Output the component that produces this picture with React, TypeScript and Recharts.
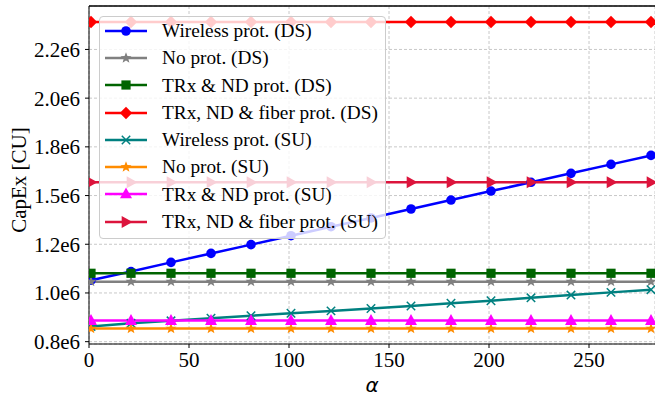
import React from "react";
import {
  LineChart,
  Line,
  XAxis,
  YAxis,
  CartesianGrid,
  ReferenceLine,
} from "recharts";

const alpha = [1, 21, 41, 61, 81, 101, 121, 141, 161, 181, 201, 221, 241, 261, 281];

const wirelessDS = [1.065e6, 1.11e6, 1.157e6, 1.203e6, 1.248e6, 1.294e6, 1.34e6, 1.385e6, 1.431e6, 1.477e6, 1.523e6, 1.568e6, 1.614e6, 1.66e6, 1.706e6];
const noProtDS = [1.058e6, 1.058e6, 1.058e6, 1.058e6, 1.058e6, 1.058e6, 1.058e6, 1.058e6, 1.058e6, 1.058e6, 1.058e6, 1.058e6, 1.058e6, 1.058e6, 1.058e6];
const trxDS = [1.101e6, 1.101e6, 1.101e6, 1.101e6, 1.101e6, 1.101e6, 1.101e6, 1.101e6, 1.101e6, 1.101e6, 1.101e6, 1.101e6, 1.101e6, 1.101e6, 1.101e6];
const fiberDS = [2.391e6, 2.391e6, 2.391e6, 2.391e6, 2.391e6, 2.391e6, 2.391e6, 2.391e6, 2.391e6, 2.391e6, 2.391e6, 2.391e6, 2.391e6, 2.391e6, 2.391e6];
const wirelessSU = [0.828e6, 0.844e6, 0.857e6, 0.87e6, 0.883e6, 0.896e6, 0.908e6, 0.92e6, 0.933e6, 0.947e6, 0.96e6, 0.975e6, 0.989e6, 1.003e6, 1.017e6];
const noProtSU = [0.817e6, 0.817e6, 0.817e6, 0.817e6, 0.817e6, 0.817e6, 0.817e6, 0.817e6, 0.817e6, 0.817e6, 0.817e6, 0.817e6, 0.817e6, 0.817e6, 0.817e6];
const trxSU = [0.858e6, 0.858e6, 0.858e6, 0.858e6, 0.858e6, 0.858e6, 0.858e6, 0.858e6, 0.858e6, 0.858e6, 0.858e6, 0.858e6, 0.858e6, 0.858e6, 0.858e6];
const fiberSU = [1.568e6, 1.568e6, 1.568e6, 1.568e6, 1.568e6, 1.568e6, 1.568e6, 1.568e6, 1.568e6, 1.568e6, 1.568e6, 1.568e6, 1.568e6, 1.568e6, 1.568e6];

const xTicks = [0, 50, 100, 150, 200, 250];
const yTicks = [0.75e6, 1.0e6, 1.25e6, 1.5e6, 1.75e6, 2.0e6, 2.25e6];
const yTickLabels = ["0.8e6", "1.0e6", "1.2e6", "1.5e6", "1.8e6", "2.0e6", "2.2e6"];

const X_DOMAIN: [number, number] = [0, 283];
const Y_DOMAIN: [number, number] = [0.738e6, 2.473e6];

type Shape = "circle" | "star" | "square" | "diamond" | "x" | "triUp" | "triRight";

const series: { key: string; name: string; color: string; shape: Shape; values: number[] }[] = [
  { key: "wds", name: "Wireless prot. (DS)", color: "#0000ff", shape: "circle", values: wirelessDS },
  { key: "nds", name: "No prot. (DS)", color: "#808080", shape: "star", values: noProtDS },
  { key: "tds", name: "TRx & ND prot. (DS)", color: "#006400", shape: "square", values: trxDS },
  { key: "fds", name: "TRx, ND & fiber prot. (DS)", color: "#ff0000", shape: "diamond", values: fiberDS },
  { key: "wsu", name: "Wireless prot. (SU)", color: "#008080", shape: "x", values: wirelessSU },
  { key: "nsu", name: "No prot. (SU)", color: "#ff8c00", shape: "star", values: noProtSU },
  { key: "tsu", name: "TRx & ND prot. (SU)", color: "#ff00ff", shape: "triUp", values: trxSU },
  { key: "fsu", name: "TRx, ND & fiber prot. (SU)", color: "#dc143c", shape: "triRight", values: fiberSU },
];

const data = alpha.map((a, i) => {
  const row: Record<string, number> = { alpha: a };
  series.forEach((s) => (row[s.key] = s.values[i]));
  return row;
});

const SERIF = "'Liberation Serif', 'Times New Roman', serif";

function starPoints(cx: number, cy: number, r: number) {
  const pts: string[] = [];
  for (let i = 0; i < 10; i++) {
    const rad = i % 2 === 0 ? r : r * 0.42;
    const a = -Math.PI / 2 + (i * Math.PI) / 5;
    pts.push(`${cx + rad * Math.cos(a)},${cy + rad * Math.sin(a)}`);
  }
  return pts.join(" ");
}

function Marker({ shape, cx, cy, color }: { shape: Shape; cx: number; cy: number; color: string }) {
  switch (shape) {
    case "circle":
      return <circle cx={cx} cy={cy} r={4.8} fill={color} />;
    case "square":
      return <rect x={cx - 4.6} y={cy - 4.6} width={9.2} height={9.2} fill={color} />;
    case "diamond":
      return <polygon points={`${cx},${cy - 6.2} ${cx + 6.2},${cy} ${cx},${cy + 6.2} ${cx - 6.2},${cy}`} fill={color} />;
    case "star":
      return <polygon points={starPoints(cx, cy, 5.8)} fill={color} />;
    case "x":
      return (
        <g stroke={color} strokeWidth={1.5}>
          <line x1={cx - 4.2} y1={cy - 4.2} x2={cx + 4.2} y2={cy + 4.2} />
          <line x1={cx - 4.2} y1={cy + 4.2} x2={cx + 4.2} y2={cy - 4.2} />
        </g>
      );
    case "triUp":
      return <polygon points={`${cx},${cy - 6.5} ${cx + 6},${cy + 4.3} ${cx - 6},${cy + 4.3}`} fill={color} />;
    case "triRight":
      return <polygon points={`${cx + 6.5},${cy} ${cx - 4.3},${cy - 6} ${cx - 4.3},${cy + 6}`} fill={color} />;
  }
  return null;
}

const makeDot = (shape: Shape, color: string) => (props: any) => {
  const { cx, cy, index } = props;
  if (cx == null || cy == null) return <g key={`d-${index}`} />;
  return (
    <g key={`${shape}-${color}-${index}`}>
      <Marker shape={shape} cx={cx} cy={cy} color={color} />
    </g>
  );
};

function ChartLegend() {
  return (
    <div
      style={{
        position: "absolute",
        left: 99,
        top: 16,
        width: 285,
        paddingBottom: 3,
        background: "rgba(255,255,255,0.8)",
        border: "1px solid #cccccc",
        borderRadius: 4,
        fontFamily: SERIF,
        fontSize: 19.3,
        color: "#000",
      }}
    >
      {series.map((s) => (
        <div key={s.key} style={{ height: 27.3, display: "flex", alignItems: "center" }}>
          <svg width={57} height={20} style={{ marginLeft: 5, flexShrink: 0 }}>
            <line x1={0} y1={10} x2={42} y2={10} stroke={s.color} strokeWidth={2.5} />
            <Marker shape={s.shape} cx={21} cy={10} color={s.color} />
          </svg>
          <span style={{ whiteSpace: "nowrap", lineHeight: 1 }}>{s.name}</span>
        </div>
      ))}
    </div>
  );
}

export default function App() {
  return (
    <div style={{ position: "absolute", left: 0, top: 0, width: 655, height: 399, background: "#fff" }}>
      <LineChart
        width={655}
        height={399}
        data={data}
        margin={{ top: 6, right: 0, left: 0, bottom: 0 }}
      >
        <CartesianGrid stroke="#c8c8c8" strokeDasharray="3 2" />
        <XAxis
          dataKey="alpha"
          type="number"
          domain={X_DOMAIN}
          ticks={xTicks}
          allowDataOverflow
          height={55}
          stroke="#000"
          tickSize={4}
          tickMargin={4}
          tick={{ fill: "#000", fontSize: 21, fontFamily: SERIF }}
          label={(props: any) => {
            const vb = props.viewBox || { x: 89, y: 344, width: 566 };
            return (
              <text
                x={vb.x + vb.width / 2}
                y={vb.y + 41}
                textAnchor="middle"
                dominantBaseline="central"
                fontSize={20}
                fontStyle="italic"
                fontFamily="'DejaVu Sans', sans-serif"
                fill="#000"
              >
                α
              </text>
            );
          }}
        />
        <YAxis
          type="number"
          domain={Y_DOMAIN}
          ticks={yTicks}
          allowDataOverflow
          width={89}
          stroke="#000"
          tickSize={4}
          tickMargin={5}
          tickFormatter={(v: number) => yTickLabels[yTicks.indexOf(v)] ?? ""}
          tick={{ fill: "#000", fontSize: 21, fontFamily: SERIF }}
          label={(props: any) => {
            const vb = props.viewBox || { x: 0, y: 6, height: 338 };
            const cy = vb.y + vb.height / 2 + 5;
            return (
              <text
                x={19}
                y={cy}
                textAnchor="middle"
                dominantBaseline="central"
                transform={`rotate(-90, 19, ${cy})`}
                fontSize={21}
                fontFamily={SERIF}
                fill="#000"
              >
                CapEx [CU]
              </text>
            );
          }}
        />
        <ReferenceLine y={Y_DOMAIN[1]} stroke="#000" strokeWidth={1.5} ifOverflow="extendDomain" />
        {series.map((s) => (
          <Line
            key={s.key}
            dataKey={s.key}
            name={s.name}
            stroke={s.color}
            strokeWidth={2.5}
            dot={makeDot(s.shape, s.color)}
            activeDot={false}
            isAnimationActive={false}
          />
        ))}
      </LineChart>
      <ChartLegend />
    </div>
  );
}
